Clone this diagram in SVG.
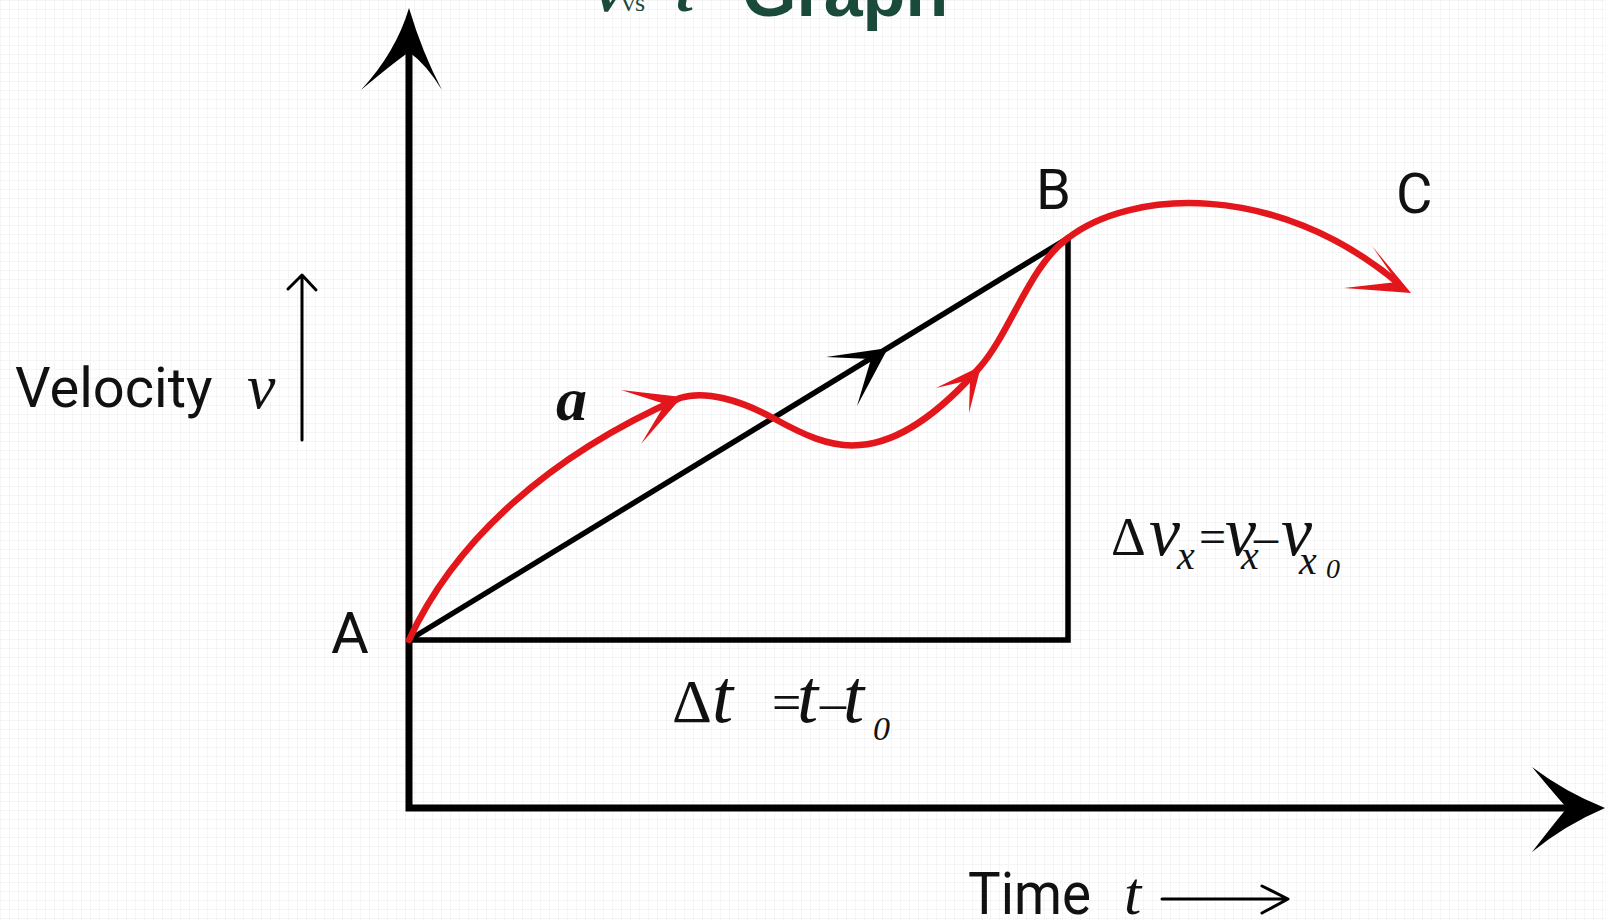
<svg xmlns="http://www.w3.org/2000/svg" width="1606" height="921" viewBox="0 0 1606 921">
  <style>
    .axis { fill: none; stroke: #000; stroke-width: 7; stroke-linecap: butt; }
    .blk { fill: none; stroke: #000; stroke-width: 5.5; stroke-linejoin: miter; }
    .thin { fill: none; stroke: #000; stroke-width: 3; stroke-linecap: round; stroke-linejoin: round; }
    .red { fill: none; stroke: #e3161b; stroke-width: 6.5; stroke-linecap: round; }
    .headk { fill: #000; }
    .headr { fill: #e3161b; }
    .lab { font-family: Roboto, "Liberation Sans", sans-serif; fill: #111; }
    .math { font-family: "Liberation Serif", "Times New Roman", serif; font-style: italic; fill: #111; }
    .up { font-family: "Liberation Serif", "Times New Roman", serif; fill: #111; }
    .title { fill: #1a4a3a; }
  </style>
  <defs>
    <pattern id="grid" width="9" height="9" patternUnits="userSpaceOnUse">
      <path d="M9 0 H0 V9" fill="none" stroke="#ececec" stroke-width="1"/>
    </pattern>
  </defs>
  <rect width="1606" height="921" fill="#fff"/>
  <rect width="1606" height="921" fill="url(#grid)"/>

  <g id="title">
    <text class="math title" x="596" y="11" font-size="60" font-weight="bold">v</text>
    <text class="up title" x="622" y="11" font-size="26">vs</text>
    <text class="math title" x="676" y="11" font-size="60" font-weight="bold">t</text>
    <text class="title" x="742" y="16" font-size="70" font-weight="bold" font-family="Liberation Sans, Arial, sans-serif">Graph</text>
  </g>

  <g id="connectors">
    <!-- axes -->
    <path class="axis" d="M409,40 V808 H1575"/>
    <path class="headk" d="M409,8 Q396,52 361,90 Q392,64 409,52 Q426,64 442,90 Q422,52 409,8 Z"/>
    <path class="headk" d="M1605,808 Q1565,792 1532,767 Q1556,796 1567,808 Q1556,821 1532,852 Q1565,825 1605,808 Z"/>
    <!-- right triangle -->
    <path class="blk" d="M409,640 H1068 V238"/>
    <!-- diagonal A to B -->
    <path class="blk" d="M409,640 L1068,238"/>
    <path class="headk" d="M888,348 L826,357 L871,359 L857,406 Z"/>
    <!-- red curve A to B -->
    <path class="red" d="M409,640 C455,540 550,455 680,398 C705,390 740,400 773,418 C802,434 830,448 860,445 C902,442 942,410 980,367 C1010,333 1030,265 1068,238"/>
    <path class="headr" d="M682,397 L621,390 L665,404 L641,444 Z"/>
    <path class="headr" d="M981,366 L936,388 L970,380 L969,413 Z"/>
    <!-- red curve B to C -->
    <path class="red" d="M1068,238 C1130,190 1275,180 1398,283"/>
    <path class="headr" d="M1411,293 L1372,246 L1397,282 L1344,288 Z"/>
    <!-- small arrows -->
    <path class="thin" d="M302,440 V276 M288,289 L302,275 L316,290"/>
    <path class="thin" d="M1162,899 H1287 M1262,886 L1288,899 L1262,913"/>
  </g>

  <g id="label-velocity">
    <text class="lab" x="15" y="407" font-size="56">Velocity</text>
    <text class="math" x="247" y="408" font-size="64">v</text>
  </g>
  <g id="point-A"><text class="lab" x="331" y="653" font-size="58">A</text></g>
  <g id="point-B"><text class="lab" x="1036" y="209" font-size="56">B</text></g>
  <g id="point-C"><text class="lab" x="1396" y="213" font-size="56">C</text></g>
  <g id="label-a"><text class="math" x="556" y="420" font-size="62" font-weight="bold">a</text></g>

  <g id="label-dv">
    <text class="up" x="1111" y="555" font-size="54">Δ</text>
    <text class="math" x="1149" y="555" font-size="70">v</text>
    <text class="math" x="1177" y="569" font-size="40">x</text>
    <text class="up" x="1199" y="553" font-size="48">=</text>
    <text class="math" x="1225" y="555" font-size="70">v</text>
    <text class="math" x="1241" y="569" font-size="40">x</text>
    <text class="up" x="1254" y="553" font-size="48">–</text>
    <text class="math" x="1281" y="555" font-size="70">v</text>
    <text class="math" x="1299" y="574" font-size="40">x</text>
    <text class="math" x="1326" y="578" font-size="28">0</text>
  </g>

  <g id="label-dt">
    <text class="up" x="672" y="722" font-size="62">Δ</text>
    <text class="math" x="712" y="722" font-size="76">t</text>
    <text class="up" x="772" y="720" font-size="52">=</text>
    <text class="math" x="797" y="722" font-size="76">t</text>
    <text class="up" x="820" y="720" font-size="52">–</text>
    <text class="math" x="843" y="722" font-size="76">t</text>
    <text class="math" x="873" y="740" font-size="34">0</text>
  </g>

  <g id="label-time">
    <text class="lab" x="968" y="914" font-size="60" textLength="123" lengthAdjust="spacingAndGlyphs" font-family="Liberation Sans, Arial, sans-serif">Time</text>
    <text class="math" x="1124" y="914" font-size="62">t</text>
  </g>
</svg>
